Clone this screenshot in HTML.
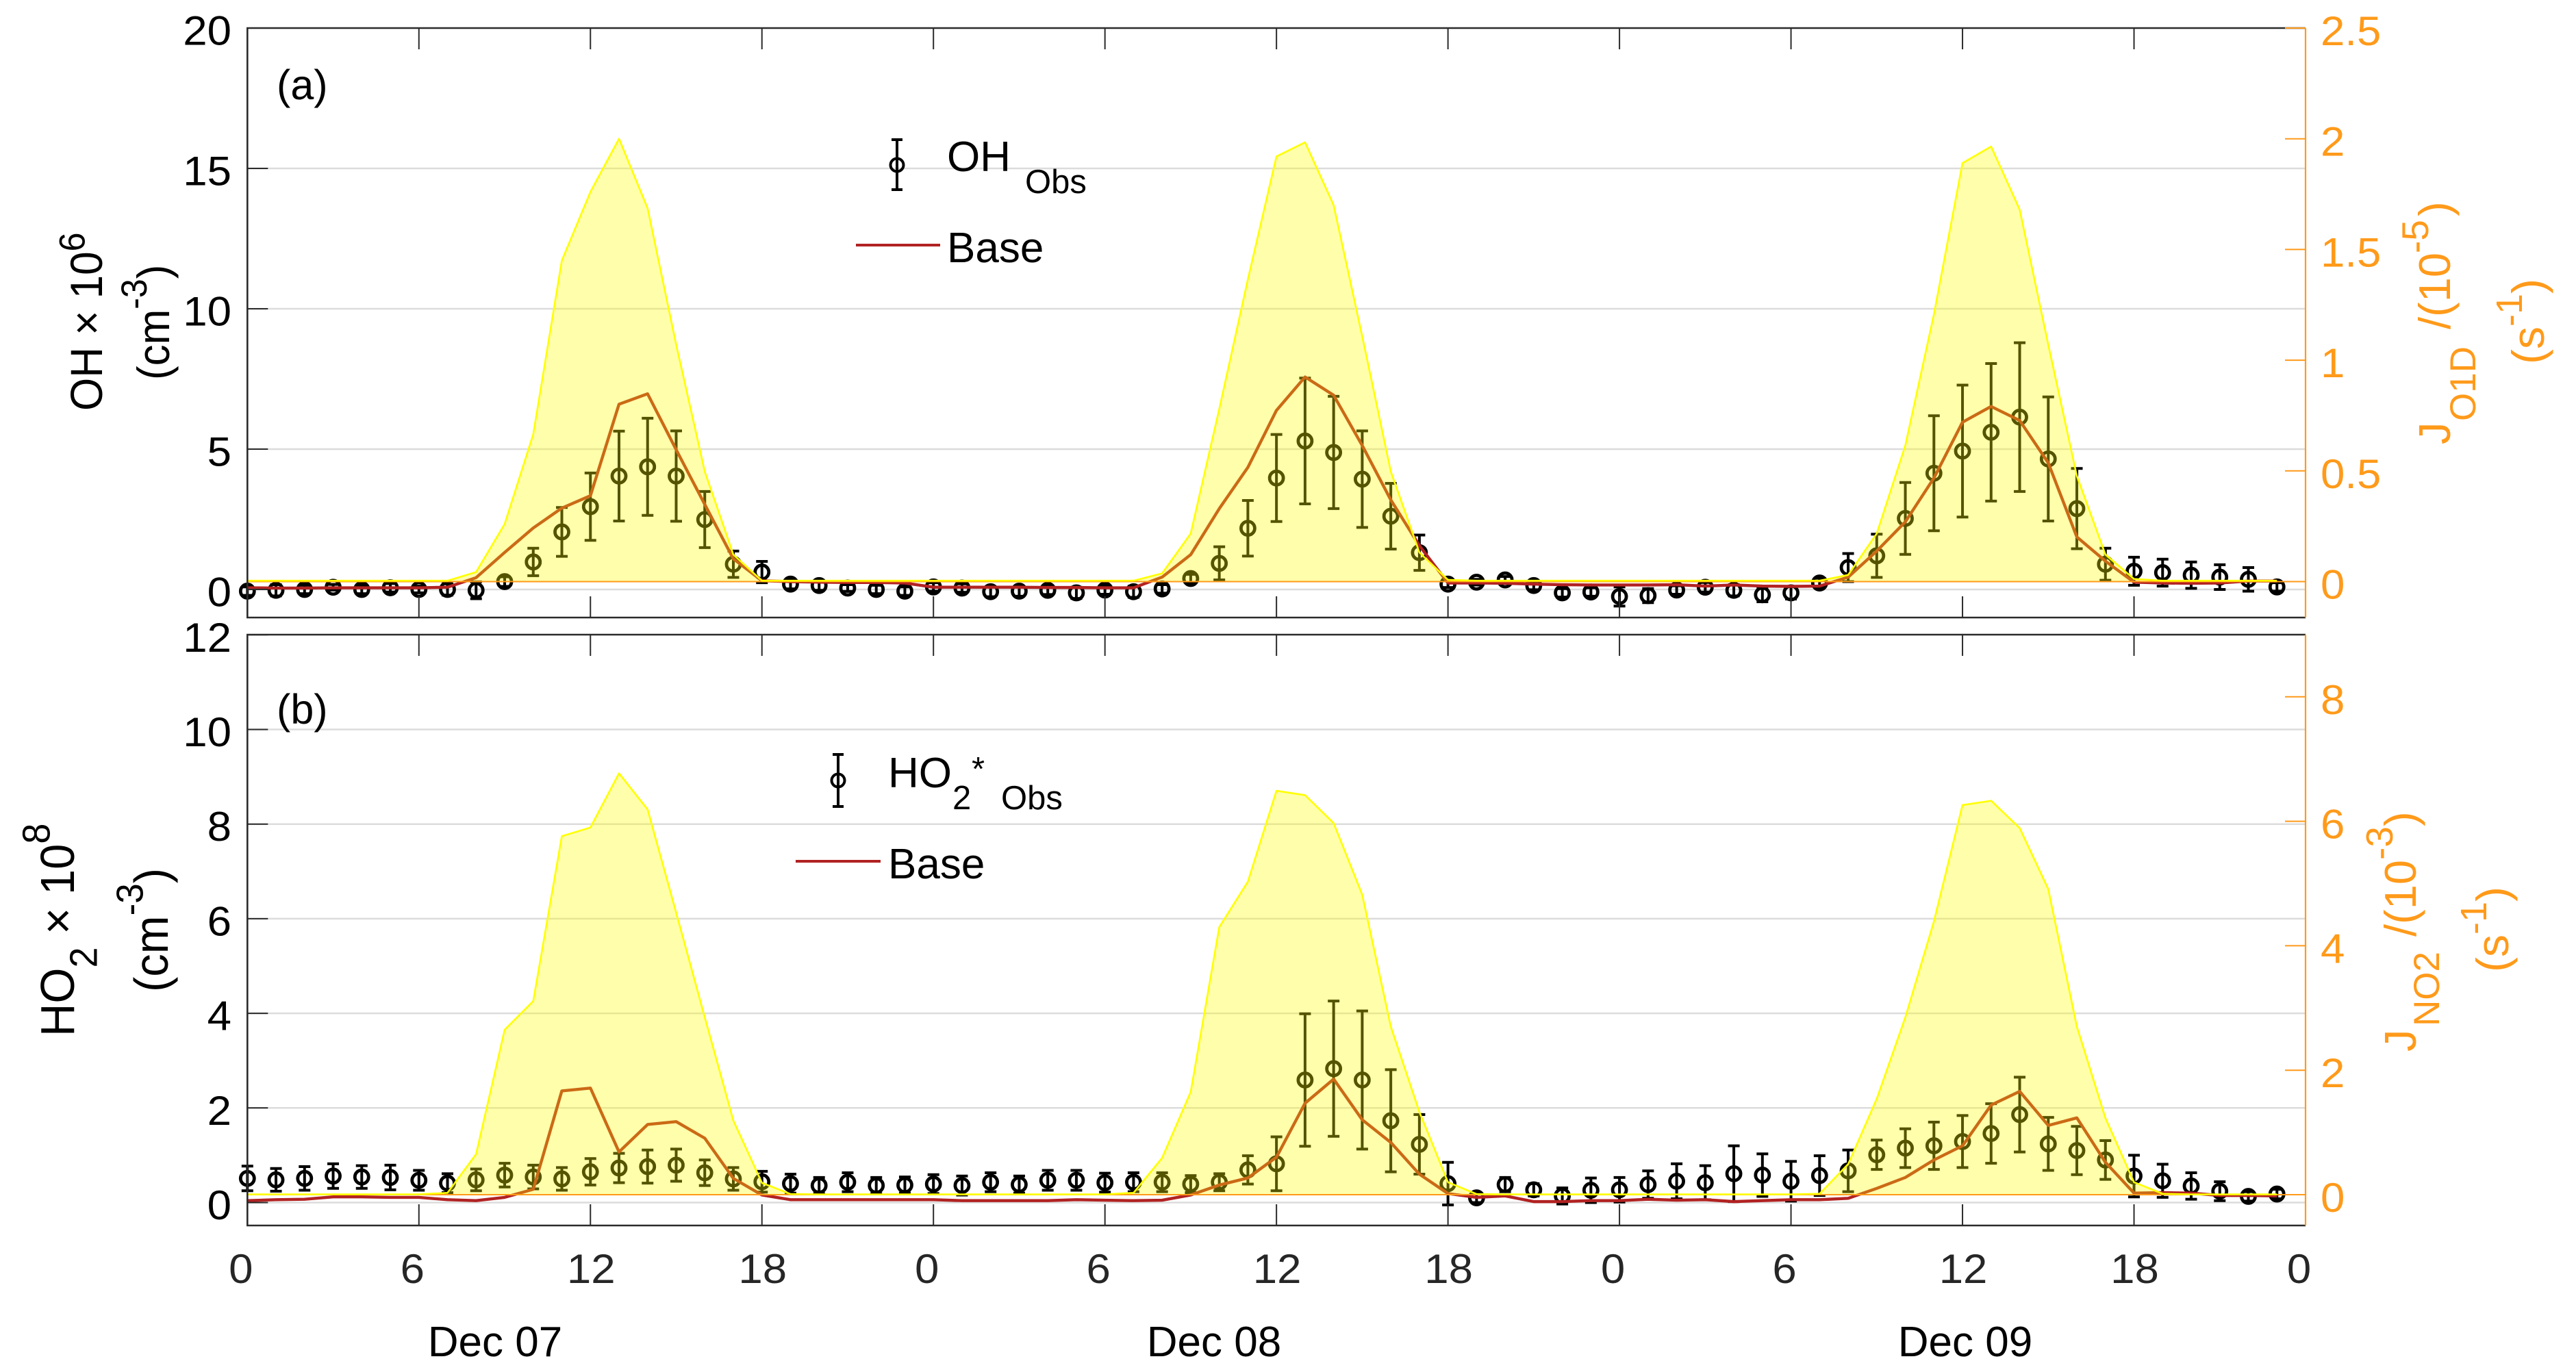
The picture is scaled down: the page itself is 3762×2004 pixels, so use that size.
<!DOCTYPE html>
<html lang="en">
<head>
<meta charset="utf-8">
<title>OH and HO2 observations vs. Base model</title>
<style>
html,body{margin:0;padding:0;background:#fff;}
svg{display:block;}
text{font-family:"Liberation Sans",Arial,sans-serif;}
</style>
</head>
<body>
<svg id="chart" xmlns="http://www.w3.org/2000/svg" width="3762" height="2004" viewBox="0 0 3762 2004">
  <rect x="0" y="0" width="3762" height="2004" fill="#ffffff"/>
  <g id="layer-grid"></g>
  <g id="layer-marks"></g>
  <g id="layer-axes"></g>

  <text x="404" y="145" font-size="61" fill="#000">(a)</text>
  <text x="404" y="1057" font-size="61" fill="#000">(b)</text>

  <text transform="translate(149,600) rotate(-90) scale(1,1.06)" font-size="62" fill="#000">OH × 10<tspan dy="-24" font-size="50">6</tspan></text>
  <text transform="translate(247,555) rotate(-90) scale(1,1.06)" font-size="62" fill="#000">(cm<tspan dy="-31" font-size="50">-3</tspan><tspan dy="31">)</tspan></text>
  <text transform="translate(108,1514) rotate(-90) scale(1,1.04)" font-size="67" fill="#000">HO<tspan dy="32" font-size="54">2</tspan><tspan dy="-32"> × 10</tspan><tspan dy="-34" font-size="54">8</tspan></text>
  <text transform="translate(245,1449) rotate(-90) scale(1,1.04)" font-size="67" fill="#000">(cm<tspan dy="-35" font-size="53">-3</tspan><tspan dy="35">)</tspan></text>

  <text transform="translate(3578,649) rotate(-90)" font-size="65" fill="#ff9a1a">J<tspan x="34" dy="37" font-size="53">O1D</tspan><tspan x="168" dy="-37">/(10</tspan><tspan x="279" dy="-32" font-size="55">-5</tspan><tspan x="333" dy="32">)</tspan></text>
  <text transform="translate(3715,532) rotate(-90)" font-size="66" fill="#ff9a1a">(s<tspan dy="-32" font-size="54">-1</tspan><tspan dy="32">)</tspan></text>
  <text transform="translate(3528,1536) rotate(-90)" font-size="65" fill="#ff9a1a">J<tspan x="37" dy="34" font-size="53">NO2</tspan><tspan x="168" dy="-34">/(10</tspan><tspan x="280" dy="-34" font-size="55">-3</tspan><tspan x="329" dy="34">)</tspan></text>
  <text transform="translate(3663,1420) rotate(-90)" font-size="66" fill="#ff9a1a">(s<tspan dy="-32" font-size="54">-1</tspan><tspan dy="32">)</tspan></text>

  <text x="723" y="1981" font-size="62" text-anchor="middle" fill="#000">Dec 07</text>
  <text x="1773" y="1981" font-size="62" text-anchor="middle" fill="#000">Dec 08</text>
  <text x="2870" y="1981" font-size="62" text-anchor="middle" fill="#000">Dec 09</text>

  <g>
    <g fill="none" stroke="#000" stroke-width="4">
      <line x1="1310" y1="204" x2="1310" y2="277"/>
      <line x1="1302" y1="204" x2="1318" y2="204"/>
      <line x1="1302" y1="277" x2="1318" y2="277"/>
      <circle cx="1310" cy="241" r="9.5" stroke-width="4"/>
    </g>
    <text x="1383" y="250" font-size="62" fill="#000">OH<tspan x="1497" dy="32" font-size="49">Obs</tspan></text>
    <line x1="1250" y1="358" x2="1373" y2="358" stroke="#b22222" stroke-width="4"/>
    <text x="1383" y="383" font-size="62" fill="#000">Base</text>
  </g>
  <g>
    <g fill="none" stroke="#000" stroke-width="4">
      <line x1="1224" y1="1102" x2="1224" y2="1178"/>
      <line x1="1216" y1="1102" x2="1232" y2="1102"/>
      <line x1="1216" y1="1178" x2="1232" y2="1178"/>
      <circle cx="1224" cy="1140" r="9.5" stroke-width="4"/>
    </g>
    <text x="1297" y="1150" font-size="62" fill="#000">HO<tspan x="1391" dy="32" font-size="49">2</tspan><tspan x="1419" dy="-42" font-size="49">*</tspan><tspan x="1462" dy="42" font-size="49">Obs</tspan></text>
    <line x1="1162" y1="1258" x2="1286" y2="1258" stroke="#b22222" stroke-width="4"/>
    <text x="1297" y="1283" font-size="62" fill="#000">Base</text>
  </g>
</svg>
<script>
// ---------- Data (hourly, hour index 0..71 from Dec 07 00:00) ----------
const hours = [0,1,2,3,4,5,6,7,8,9,10,11,12,13,14,15,16,17,18,19,20,21,22,23,24,25,26,27,28,29,30,31,32,33,34,35,36,37,38,39,40,41,42,43,44,45,46,47,48,49,50,51,52,53,54,55,56,57,58,59,60,61,62,63,64,65,66,67,68,69,70,71];

const obsOH = [-0.06,-0.03,0,0.08,0,0.06,0,0,-0.03,0.28,
  0.98,2.05,2.95,4.04,4.37,4.04,2.49,0.9,0.62,0.19,
  0.14,0.05,0,-0.06,0.09,0.05,-0.08,-0.06,-0.03,-0.12,
  -0.02,-0.08,0.02,0.39,0.93,2.18,3.97,5.29,4.88,3.93,
  2.61,1.31,0.19,0.26,0.34,0.14,-0.12,-0.09,-0.25,-0.22,
  -0.02,0.08,-0.03,-0.19,-0.12,0.23,0.78,1.2,2.53,4.14,
  4.93,5.6,6.14,4.65,2.88,0.9,0.65,0.6,0.51,0.44,0.36,0.09];
const errOH = [0.15,0.2,0.15,0.1,0.15,0.15,0.12,0.2,0.3,0.17,
  0.49,0.87,1.2,1.6,1.73,1.61,1.0,0.47,0.38,0.17,
  0.17,0.12,0.15,0.15,0.15,0.15,0.18,0.18,0.15,0.2,
  0.15,0.2,0.15,0.15,0.59,0.99,1.55,2.24,2.0,1.72,
  1.17,0.63,0.12,0.1,0.12,0.15,0.15,0.15,0.34,0.25,
  0.15,0.17,0.2,0.25,0.22,0.17,0.5,0.77,1.28,2.05,
  2.35,2.45,2.65,2.21,1.43,0.57,0.5,0.48,0.47,0.44,0.42,0.15];
const baseOH = [0.06,0.05,0.05,0.06,0.06,0.06,0.06,0.08,0.42,1.32,
  2.19,2.9,3.34,6.6,6.97,4.98,3.03,1.09,0.31,0.28,
  0.26,0.25,0.25,0.23,0.08,0.08,0.08,0.08,0.07,0.07,
  0.06,0.06,0.44,1.24,2.88,4.35,6.38,7.57,6.92,5.13,
  3.19,1.56,0.23,0.23,0.22,0.19,0.17,0.16,0.16,0.16,
  0.17,0.12,0.16,0.12,0.11,0.12,0.44,1.37,2.41,3.97,
  5.96,6.52,6.02,4.51,1.87,1.01,0.26,0.23,0.22,0.23,0.3,0.3];
const jO1D = [0.004,0.004,0.004,0.004,0.004,0.004,0.004,0.004,0.043,0.26,
  0.665,1.45,1.76,2.0,1.686,1.07,0.497,0.122,0.004,0.004,
  0.004,0.004,0.004,0.004,0.004,0.004,0.004,0.004,0.004,0.004,
  0.004,0.004,0.037,0.217,0.78,1.365,1.92,1.984,1.7,1.108,
  0.497,0.132,0.008,0.004,0.004,0.004,0.004,0.004,0.004,0.004,
  0.004,0.004,0.004,0.004,0.004,0.004,0.03,0.217,0.615,1.207,
  1.89,1.965,1.68,1.07,0.477,0.122,0.012,0.004,0.004,0.004,0.004,0.004];

const obsHO2 = [0.51,0.48,0.51,0.56,0.54,0.53,0.47,0.41,0.48,0.58,
  0.54,0.5,0.65,0.73,0.76,0.79,0.63,0.5,0.44,0.4,
  0.36,0.43,0.36,0.37,0.39,0.36,0.43,0.38,0.47,0.47,
  0.42,0.43,0.43,0.39,0.43,0.69,0.82,2.59,2.83,2.59,
  1.73,1.23,0.4,0.1,0.38,0.27,0.14,0.26,0.27,0.38,
  0.45,0.42,0.61,0.58,0.45,0.57,0.67,1.01,1.15,1.2,
  1.29,1.46,1.86,1.24,1.1,0.9,0.56,0.46,0.35,0.24,0.13,0.18];
const errHO2 = [0.26,0.24,0.25,0.26,0.24,0.26,0.21,0.2,0.23,0.25,
  0.25,0.24,0.28,0.31,0.35,0.34,0.27,0.24,0.22,0.2,
  0.17,0.2,0.17,0.17,0.2,0.2,0.2,0.18,0.21,0.21,
  0.2,0.2,0.2,0.18,0.18,0.3,0.57,1.4,1.43,1.46,
  1.08,0.63,0.45,0.1,0.15,0.13,0.17,0.26,0.26,0.29,
  0.37,0.36,0.59,0.45,0.42,0.42,0.44,0.31,0.41,0.5,
  0.55,0.63,0.79,0.56,0.51,0.41,0.44,0.35,0.28,0.2,0.1,0.1];
const baseHO2 = [0.04,0.06,0.07,0.12,0.12,0.11,0.11,0.06,0.04,0.11,
  0.28,2.36,2.42,1.07,1.65,1.71,1.36,0.51,0.16,0.06,
  0.06,0.06,0.06,0.06,0.06,0.04,0.04,0.04,0.04,0.06,
  0.05,0.04,0.05,0.16,0.37,0.52,0.96,2.1,2.61,1.75,
  1.27,0.6,0.19,0.11,0.14,0.02,0.02,0.04,0.04,0.07,
  0.05,0.06,0.02,0.04,0.06,0.06,0.09,0.3,0.53,0.9,
  1.2,2.06,2.35,1.63,1.79,0.85,0.2,0.21,0.2,0.15,0.15,0.14];
const jNO2 = [0.005,0.005,0.005,0.005,0.005,0.005,0.005,0.03,0.65,2.65,
  3.11,5.76,5.9,6.77,6.19,4.53,2.85,1.19,0.19,0.01,
  0.005,0.005,0.005,0.005,0.005,0.005,0.005,0.005,0.005,0.005,
  0.005,0.03,0.59,1.65,4.3,5.03,6.49,6.42,5.97,4.82,
  2.7,1.33,0.2,0.01,0.005,0.005,0.005,0.005,0.005,0.005,
  0.005,0.005,0.005,0.005,0.005,0.015,0.49,1.54,2.85,4.39,
  6.26,6.33,5.89,4.91,2.7,1.23,0.2,0.015,0.005,0.005,0.005,0.005];

const xTickHours = [0,6,12,18,24,30,36,42,48,54,60,66,72];
const xTickLabels = ['0','6','12','18','0','6','12','18','0','6','12','18','0'];
const yTicksA = [0,5,10,15,20];
const yTicksB = [0,2,4,6,8,10,12];
const rightTicksA = [0,0.5,1,1.5,2,2.5];
const rightTicksB = [0,2,4,6,8];

// ---------- Axis functions ----------
const PLOT_L = 361.3, PLOT_R = 3367;
const A_TOP = 41, A_BOT = 902, B_TOP = 927, B_BOT = 1790;
const xS  = t => PLOT_L + (PLOT_R - PLOT_L) * t / 72;
const yA  = v => 861 - 41 * v;
const yAR = v => 849.5 - 323.4 * v;
const yB  = v => 1756.5 - 69.1 * v;
const yBR = v => 1745 - 90.9 * v;

const NS = 'http://www.w3.org/2000/svg';
function mk(tag, attrs, parent) {
  const el = document.createElementNS(NS, tag);
  for (const k in attrs) el.setAttribute(k, attrs[k]);
  parent.appendChild(el);
  return el;
}
const gridLayer = document.getElementById('layer-grid');
const marksLayer = document.getElementById('layer-marks');
const axesLayer = document.getElementById('layer-axes');
const AXIS = '#2b2b2b', ORANGE = '#ff9a1a';
const TICK_SX = 1.06;

function drawPanel(cfg) {
  // gridlines
  cfg.yTicks.forEach(v => {
    if (cfg.yFn(v) <= cfg.top + 3) return;
    const g = mk('line', {x1: PLOT_L, x2: PLOT_R, y1: cfg.yFn(v), y2: cfg.yFn(v), stroke: '#dcdcdc', 'stroke-width': 2.5}, gridLayer);
    
    
  });

  // observations with error bars
  const obsGroup = mk('g', {fill: 'none', stroke: '#000', 'stroke-width': 4}, marksLayer);
  
  
  hours.forEach((h, i) => {
    const x = xS(h), cy = cfg.yFn(cfg.obs[i]);
    const yU = cfg.yFn(cfg.obs[i] + cfg.err[i]), yL = cfg.yFn(cfg.obs[i] - cfg.err[i]);
    const bar = mk('path', {d: `M${x} ${yU}V${yL}M${x-8.5} ${yU}H${x+8.5}M${x-8.5} ${yL}H${x+8.5}`}, obsGroup);
    
    
    const pt = mk('circle', {cx: x, cy: cy, r: 10, 'stroke-width': 4.8}, obsGroup);
    
    
  });

  // base model line
  const baseLine = mk('polyline', {points: hours.map((h, i) => xS(h) + ',' + cfg.yFn(cfg.base[i])).join(' '), fill: 'none', stroke: '#b22222', 'stroke-width': 4.4, 'stroke-linejoin': 'round'}, marksLayer);
  
  

  // photolysis area on top (translucent)
  const y0 = cfg.yRFn(0);
  const pts = hours.map((h, i) => xS(h) + ',' + cfg.yRFn(cfg.j[i]));
  const area = mk('polygon', {points: xS(hours[0]) + ',' + y0 + ' ' + pts.join(' ') + ' ' + xS(hours[hours.length-1]) + ',' + y0, fill: 'rgba(255,255,0,0.33)', stroke: 'none'}, marksLayer);
  
  
  const zero = mk('line', {x1: PLOT_L, x2: PLOT_R, y1: y0, y2: y0, stroke: ORANGE, 'stroke-width': 2}, marksLayer);
  
  
  const top = mk('polyline', {points: pts.join(' '), fill: 'none', stroke: '#ffff00', 'stroke-width': 2.6, 'stroke-linejoin': 'round'}, marksLayer);
  
  

  // axis box
  const box = mk('path', {d: `M${PLOT_R} ${cfg.top}H${PLOT_L}V${cfg.bot}H${PLOT_R}`, fill: 'none', stroke: AXIS, 'stroke-width': 2.6}, axesLayer);
  
  
  const rightAxis = mk('line', {x1: PLOT_R, x2: PLOT_R, y1: cfg.top, y2: cfg.bot, stroke: ORANGE, 'stroke-width': 2.2}, axesLayer);
  
  

  // x ticks
  xTickHours.forEach((h, i) => {
    if (i === 0 || i === xTickHours.length - 1) return;
    const x = xS(h);
    const tickB = mk('line', {x1: x, x2: x, y1: cfg.bot, y2: cfg.bot - 31, stroke: AXIS, 'stroke-width': 2}, axesLayer);
    
    
    const tickT = mk('line', {x1: x, x2: x, y1: cfg.top, y2: cfg.top + 31, stroke: AXIS, 'stroke-width': 2}, axesLayer);
    
    
  });

  // left ticks + labels
  cfg.yTicks.forEach(v => {
    const y = cfg.yFn(v);
    const t = mk('line', {x1: PLOT_L, x2: PLOT_L + 30, y1: y, y2: y, stroke: AXIS, 'stroke-width': 2}, axesLayer);
    
    
    const lab = mk('text', {transform: `translate(338,${y + 24.5}) scale(${TICK_SX},1)`, 'font-size': 60, 'text-anchor': 'end', fill: '#000'}, axesLayer);
    lab.textContent = String(v);
    
    
  });

  // right ticks + labels
  cfg.rTicks.forEach(v => {
    const y = cfg.yRFn(v);
    const t = mk('line', {x1: PLOT_R - 30, x2: PLOT_R, y1: y, y2: y, stroke: ORANGE, 'stroke-width': 2}, axesLayer);
    
    
    const lab = mk('text', {transform: `translate(3389,${y + 25}) scale(${TICK_SX},1)`, 'font-size': 60, fill: ORANGE}, axesLayer);
    lab.textContent = String(v);
    
    
  });
}

drawPanel({id: 'panel-a', top: A_TOP, bot: A_BOT, yFn: yA, yRFn: yAR, yTicks: yTicksA, rTicks: rightTicksA, obs: obsOH, err: errOH, base: baseOH, j: jO1D});
drawPanel({id: 'panel-b', top: B_TOP, bot: B_BOT, yFn: yB, yRFn: yBR, yTicks: yTicksB, rTicks: rightTicksB, obs: obsHO2, err: errHO2, base: baseHO2, j: jNO2});

// x tick labels under panel b
xTickHours.forEach((h, i) => {
  const s = xTickLabels[i];
  const lab = mk('text', {transform: `translate(${xS(h) + (s.length === 1 ? -9.5 : 1)},1874) scale(${TICK_SX},1)`, 'font-size': 60, 'text-anchor': 'middle', fill: '#262626'}, axesLayer);
  lab.textContent = s;
  
  
});
</script>
</body>
</html>
